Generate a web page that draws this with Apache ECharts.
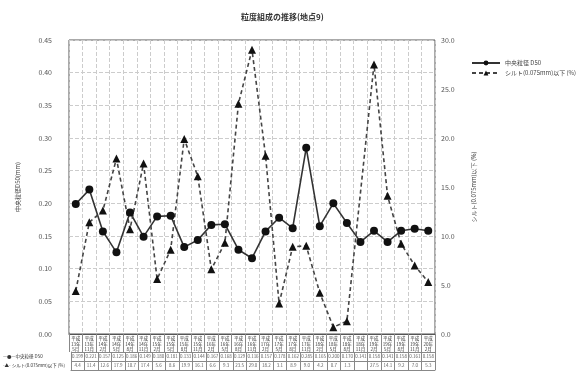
<!DOCTYPE html>
<html>
<head>
<meta charset="utf-8">
<script src="https://cdn.jsdelivr.net/npm/echarts@6/dist/echarts.min.js"></script>
<style>
  html, body { margin: 0; padding: 0; background: #fff; }
  #chart { width: 586px; height: 374px; }
</style>
</head>
<body>
<div id="chart"></div>
<script>
// sampling dates (平成 year / month)
const years = ['13年', '13年', '14年', '14年', '14年', '14年', '15年', '15年', '15年', '15年',
  '16年', '16年', '16年', '16年', '17年', '17年', '17年', '17年', '18年', '18年',
  '18年', '18年', '19年', '19年', '19年', '19年', '20年'];
const months = ['5月', '11月', '2月', '5月', '8月', '11月', '2月', '5月', '8月', '11月',
  '2月', '5月', '8月', '11月', '2月', '5月', '8月', '11月', '2月', '5月',
  '8月', '11月', '2月', '5月', '8月', '11月', '2月'];

// 中央粒径 D50 (mm)
const d50 = [0.199, 0.221, 0.157, 0.125, 0.186, 0.149, 0.180, 0.181, 0.133, 0.144,
  0.167, 0.168, 0.129, 0.116, 0.157, 0.178, 0.162, 0.285, 0.165, 0.200,
  0.170, 0.141, 0.158, 0.141, 0.158, 0.161, 0.158];
// シルト(0.075mm)以下 (%)
const silt = [4.4, 11.4, 12.6, 17.9, 10.7, 17.4, 5.6, 8.6, 19.9, 16.1,
  6.6, 9.3, 23.5, 29.0, 18.2, 3.1, 8.9, 9.0, 4.2, 0.7,
  1.3, null, 27.5, 14.1, 9.2, 7.0, 5.3];

const d50Name = '中央粒径 D50';
const siltName = 'シルト(0.075mm)以下 (%)';
const rowNames = ['-▲- ' + siltName, '—●—' + d50Name];

const categories = years.map((y, i) => '平成\n' + y + '\n' + months[i]);
const font = '"Noto Sans CJK JP", sans-serif';

const tableData = [];
d50.forEach((v, i) => tableData.push({ value: [i, 1], text: v.toFixed(3) }));
silt.forEach((v, i) => tableData.push({ value: [i, 0], text: v == null ? '' : v.toFixed(1) }));

const chart = echarts.init(document.getElementById('chart'));
chart.setOption({
  backgroundColor: '#fff',
  animation: false,
  textStyle: { fontFamily: font },
  title: {
    text: '粒度組成の推移(地点9)',
    left: 236,
    top: 8,
    textStyle: { fontSize: 8, fontWeight: 'bold', color: '#333', fontFamily: font },
  },
  legend: {
    data: [d50Name, siltName],
    orient: 'vertical',
    left: 466,
    top: 55,
    itemWidth: 28,
    itemHeight: 6,
    itemGap: 4,
    textStyle: { fontSize: 6, color: '#444', fontFamily: font },
  },
  grid: [
    { left: 69, right: 151, top: 40, height: 294, show: true, borderColor: '#555', borderWidth: 1 },
    { left: 69, right: 151, top: 352, height: 18 },
  ],
  xAxis: [
    {
      type: 'category',
      gridIndex: 0,
      data: categories,
      axisLine: { lineStyle: { color: '#555' } },
      axisTick: { show: true, length: 18, interval: 0, lineStyle: { color: '#888' } },
      axisLabel: { interval: 0, fontSize: 4.5, lineHeight: 5.5, margin: 2, color: '#333' },
      splitLine: { show: true, interval: 0, lineStyle: { color: '#ccc', type: 'dashed' } },
    },
    {
      type: 'category',
      gridIndex: 1,
      data: categories,
      axisLine: { lineStyle: { color: '#888' } },
      axisTick: { show: false },
      axisLabel: { show: false },
      splitLine: { show: true, interval: 0, lineStyle: { color: '#888' } },
    },
  ],
  yAxis: [
    {
      type: 'value',
      gridIndex: 0,
      min: 0,
      max: 0.45,
      interval: 0.05,
      name: '中央粒径D50(mm)',
      nameLocation: 'middle',
      nameRotate: 90,
      nameGap: 48,
      nameTextStyle: { fontSize: 6, color: '#444' },
      axisLine: { show: false },
      axisTick: { show: false },
      axisLabel: { fontSize: 7, color: '#555', margin: 17, formatter: (v) => v.toFixed(2) },
      splitLine: { lineStyle: { color: '#ccc', type: 'dashed' } },
    },
    {
      type: 'value',
      gridIndex: 0,
      position: 'right',
      min: 0,
      max: 30,
      interval: 5,
      name: siltName,
      nameLocation: 'middle',
      nameRotate: 90,
      nameGap: 36,
      nameTextStyle: { fontSize: 6, color: '#444' },
      axisLine: { show: false },
      axisTick: { show: false },
      axisLabel: { fontSize: 7, color: '#555', margin: 6, formatter: (v) => v.toFixed(1) },
      splitLine: { show: false },
    },
    {
      type: 'category',
      gridIndex: 1,
      data: rowNames,
      axisLine: { lineStyle: { color: '#888' } },
      axisTick: { show: false },
      axisLabel: { fontSize: 4.5, color: '#333', align: 'left', margin: 68 },
      splitLine: { show: true, lineStyle: { color: '#888' } },
    },
  ],
  series: [
    {
      name: d50Name,
      type: 'line',
      xAxisIndex: 0,
      yAxisIndex: 0,
      data: d50,
      symbol: 'circle',
      symbolSize: 8,
      itemStyle: { color: '#111' },
      lineStyle: { color: '#333', width: 1.6 },
    },
    {
      name: siltName,
      type: 'line',
      xAxisIndex: 0,
      yAxisIndex: 1,
      data: silt,
      connectNulls: true,
      symbol: 'triangle',
      symbolSize: 8,
      itemStyle: { color: '#111' },
      lineStyle: { color: '#444', width: 1.6, type: [4, 3] },
    },
    {
      name: 'table',
      type: 'scatter',
      xAxisIndex: 1,
      yAxisIndex: 2,
      data: tableData,
      symbolSize: 1,
      silent: true,
      itemStyle: { color: 'rgba(0,0,0,0)' },
      label: {
        show: true,
        position: 'inside',
        fontSize: 4.5,
        color: '#333',
        formatter: (p) => p.data.text,
      },
    },
  ],
});
</script>
</body>
</html>
